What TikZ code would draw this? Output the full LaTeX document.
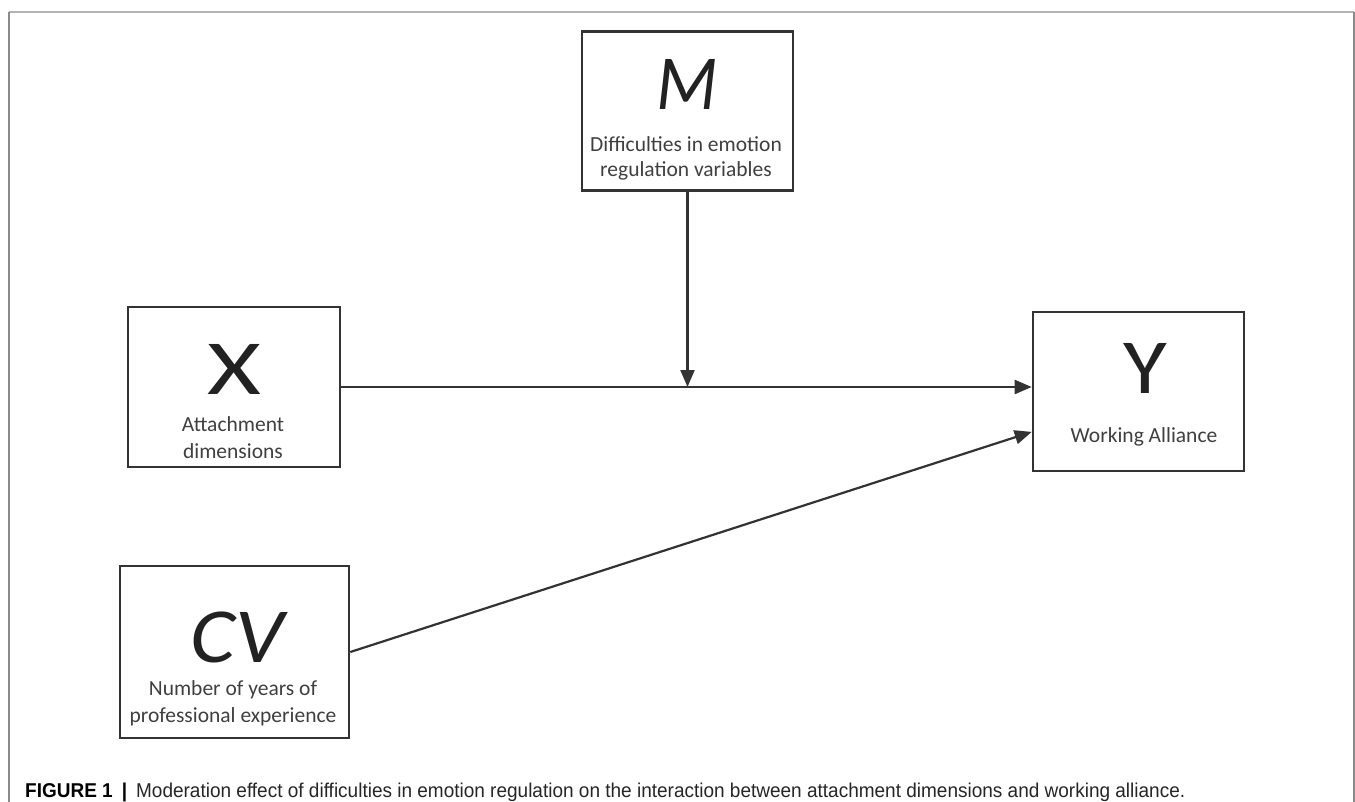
\documentclass[tikz,border=0pt]{standalone}
\usepackage{fontspec}
\usepackage{graphicx}
\setmainfont{Carlito}
\newfontfamily\capfont[FakeStretch=0.95]{Liberation Sans}
\usetikzlibrary{arrows.meta,calc}
\definecolor{boxc}{HTML}{333333}
\definecolor{txtc}{HTML}{404040}
\definecolor{bigc}{HTML}{222222}
\definecolor{frametop}{HTML}{B3B3B3}
\definecolor{frameside}{HTML}{8A8A8A}
\tikzset{
  varbox/.style={draw=boxc, line width=2.6pt, inner sep=0pt, fill=white},
  bigletter/.style={anchor=base, text=bigc, font=\fontsize{78}{80}\selectfont, inner sep=0pt},
  smalltext/.style={anchor=base, text=txtc, font=\fontsize{21.5}{24}\selectfont, inner sep=0pt},
  arr/.style={draw=boxc, line width=2.2pt, -{Triangle[length=17pt,width=14pt]}},
}
\begin{document}
\begin{tikzpicture}[x=1pt,y=-1pt]
\useasboundingbox (0,0) rectangle (1355,802);
% frame
\draw[frametop, line width=1.5pt] (9,12) -- (1354,12);
\draw[frameside, line width=1.5pt] (9,12) -- (9,802);
\draw[frameside, line width=1.5pt] (1354,12) -- (1354,802);
% boxes
\node[varbox, minimum width=211pt, minimum height=159pt] (M) at (687.5,111) {};
\node[varbox, minimum width=212pt, minimum height=160pt] (X) at (234,387) {};
\node[varbox, minimum width=211pt, minimum height=159pt] (Y) at (1138.5,391.5) {};
\node[varbox, minimum width=229pt, minimum height=172pt] (CV) at (234.5,652) {};
% texts
\node[bigletter] (Mt) at (687,110) {\scalebox{0.92}[1]{\itshape M}};
\node[smalltext] (Ma) at (686,152) {Difficulties in emotion};
\node[smalltext] (Mb) at (686,177) {regulation variables};
\node[bigletter] (Xt) at (234.5,394) {\scalebox{1.33}[1]{X}};
\node[smalltext] (Xa) at (233,431) {Attachment};
\node[smalltext] (Xb) at (233,458) {dimensions};
\node[bigletter] (Yt) at (1145,393) {\scalebox{1.15}[1]{Y}};
\node[smalltext] (Ya) at (1144,442) {Working Alliance};
\node[bigletter] (CVt) at (237,662) {\scalebox{1.1}[1]{\itshape CV}};
\node[smalltext] (CVa) at (233,695) {Number of years of};
\node[smalltext] (CVb) at (233,722) {professional experience};
% connectors
\coordinate (Yin) at ($(Y.south west)!0.25!(Y.north west)$);
\coordinate (J) at (M.south |- X.east);
\draw[arr] (X.east) -- (Y.west |- X.east);
\draw[arr] (M.south) -- (J);
\draw[arr] (CV.east) -- (Yin);
% caption
\node[anchor=base west, inner sep=0pt, text=black, font=\capfont\fontsize{20}{22}\selectfont] (cap) at (25,797)
  {\textbf{FIGURE 1}\hspace{9pt}\textbf{|}\hspace{9pt}\textcolor{black!85}{Moderation effect of difficulties in emotion regulation on the interaction between attachment dimensions and working alliance.}};
\end{tikzpicture}
\end{document}
